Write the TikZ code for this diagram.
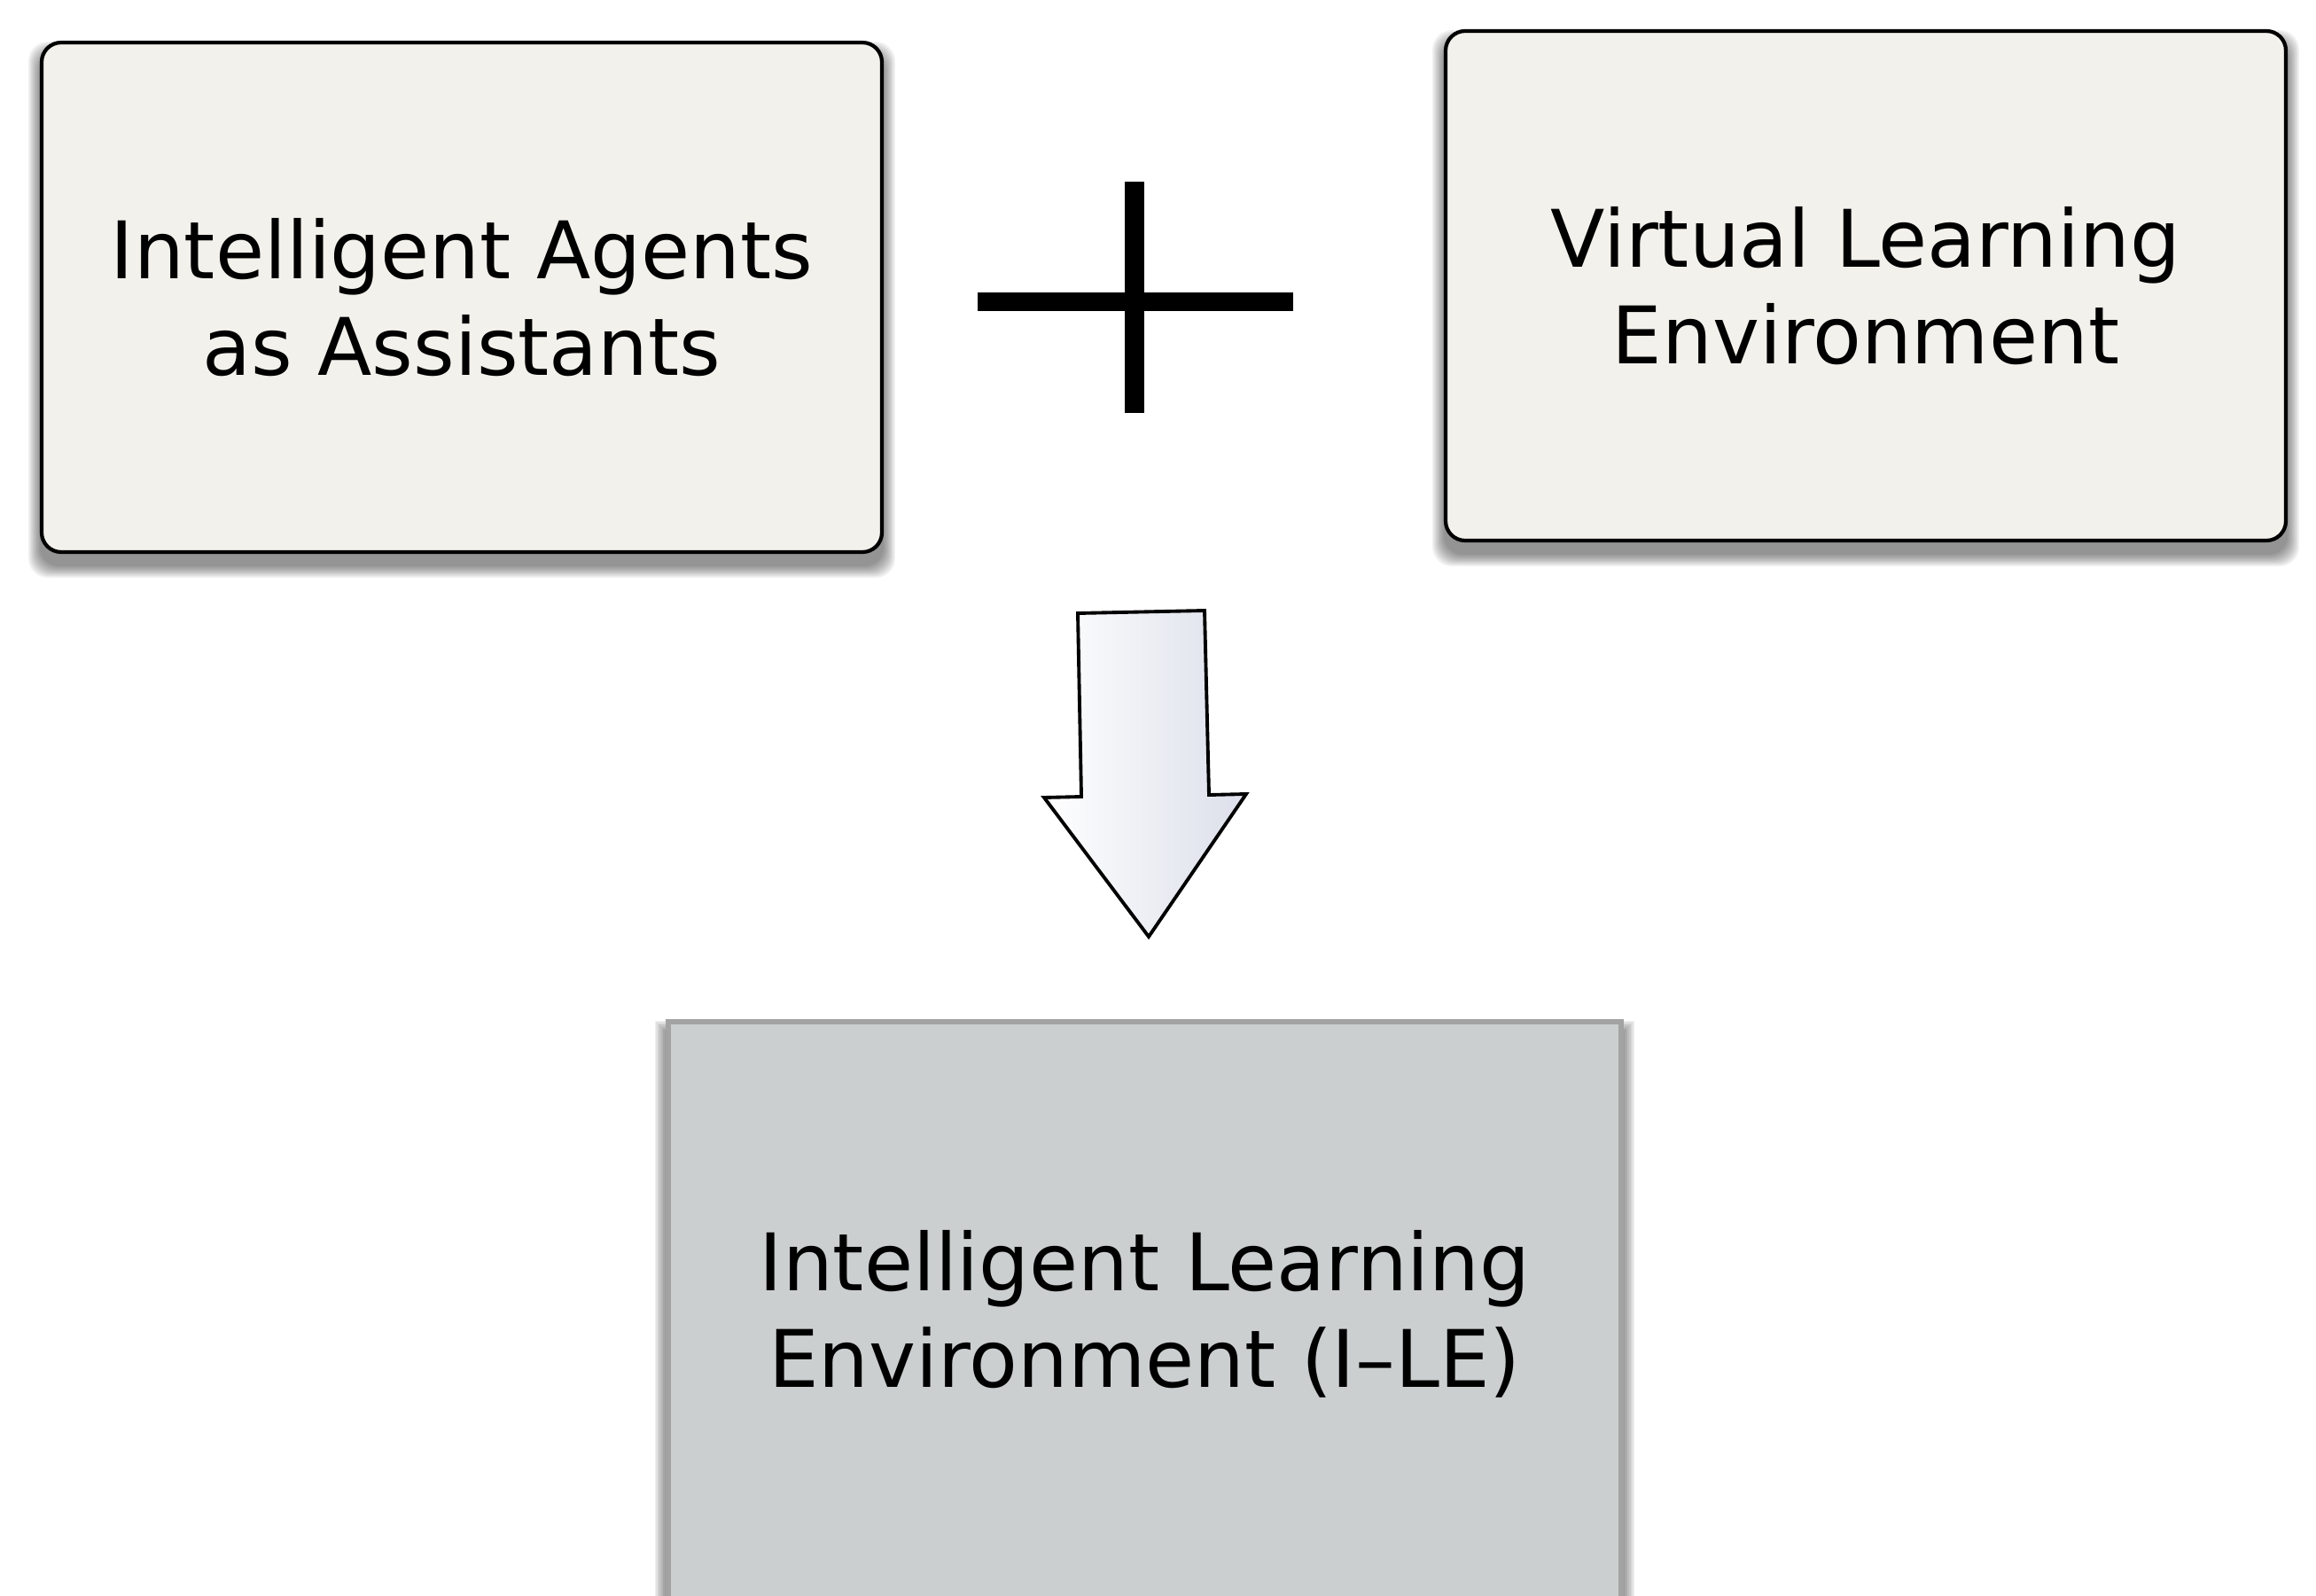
\documentclass[tikz,border=0pt]{standalone}
\usepackage{fontspec}
\setmainfont{DejaVu Sans}
\usetikzlibrary{calc,backgrounds}
\definecolor{Paper}{HTML}{F3F1EC}
\definecolor{PanelGray}{HTML}{CBCFD0}
\definecolor{EdgeGray}{HTML}{A3A3A3}
\definecolor{ArrowTint}{HTML}{DCDFEA}

% soft shadow behind a node: #1 node, #2 vertical shift, #3 corner radius
\newcommand{\softshadow}[3]{%
  \begin{scope}[on background layer]
    \foreach \i in {0,...,8}{
      \fill[black, opacity=0.06, rounded corners=#3]
        ($(#1.south west)+(-0.016*\i,#2-0.016*\i)$) rectangle ($(#1.north east)+(0.016*\i,#2+0.016*\i)$);
    }
  \end{scope}}

\begin{document}
\begin{tikzpicture}[
    font=\fontsize{25.5}{31}\selectfont,
    card/.style={draw=black, line width=1.2pt, fill=Paper, rounded corners=0.22cm, align=center, inner sep=0pt, minimum width=9.48cm, minimum height=5.75cm},
    panel/.style={draw=EdgeGray, line width=1.5pt, fill=PanelGray, align=center, inner sep=0pt, minimum width=10.75cm, minimum height=6.6cm},
    plusbar/.style={line width=6pt, draw=black},
    bigarrow/.style={draw=black, line width=1.1pt, left color=white, right color=ArrowTint}
]
\useasboundingbox (0,0) rectangle (26.13,18);

\node[card] (agents) at (5.21,14.645) {Intelligent Agents\\as Assistants};
\node[card] (vle) at (21.05,14.775) {Virtual Learning\\Environment};
\node[panel] (ile) at (12.915,3.17) {Intelligent Learning\\Environment (I–LE)};

\softshadow{agents}{-0.14}{0.22cm}
\softshadow{vle}{-0.14}{0.22cm}
\softshadow{ile}{-0.14}{0pt}

% the plus sign between the two inputs
\coordinate (plustop) at (12.80,15.95);
\coordinate (plusbot) at (12.80,13.34);
\coordinate (plusleft) at (11.03,14.595);
\coordinate (plusright) at (14.59,14.595);
\draw[plusbar] (plustop) -- (plusbot);
\draw[plusbar] (plusleft) -- (plusright);

% block arrow down to the result
\draw[bigarrow] (12.16,11.08) -- (13.59,11.11) -- (13.64,9.03) -- (14.06,9.04)
  -- (12.96,7.43) -- (11.78,9.00) -- (12.20,9.01) -- cycle;
\end{tikzpicture}
\end{document}
